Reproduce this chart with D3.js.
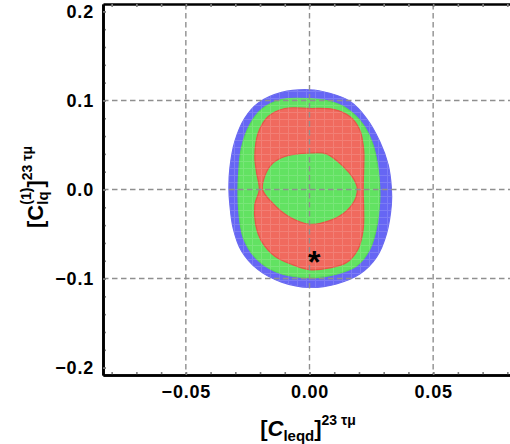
<!DOCTYPE html>
<html>
<head>
<meta charset="utf-8">
<script src="https://cdn.jsdelivr.net/npm/d3@7"></script>
<style>
  body { margin: 0; background: #fff; }
  svg { display: block; font-family: "Liberation Sans", Arial, sans-serif; }
</style>
</head>
<body>
<div id="chart"></div>
<script>
// ticks and grid
const xTicks = [-0.05, 0, 0.05];
const yTicks = [-0.2, -0.1, 0, 0.1, 0.2];
const xMinor = [-0.08, -0.07, -0.06, -0.05, -0.04, -0.03, -0.02, -0.01, 0, 0.01, 0.02, 0.03, 0.04, 0.05, 0.06, 0.07, 0.08];
const yMinor = [-0.2, -0.18, -0.16, -0.14, -0.12, -0.1, -0.08, -0.06, -0.04, -0.02, 0, 0.02, 0.04, 0.06, 0.08, 0.1, 0.12, 0.14, 0.16, 0.18, 0.2];
const gridX = [-0.05, 0, 0.05];
const gridY = [-0.1, 0, 0.1];

// allowed regions, boundaries
const blueRegion = [
  [0.0001, 0.112], [0.0082, 0.108], [0.0163, 0.099], [0.0230, 0.080], [0.0284, 0.054],
  [0.0318, 0.028], [0.0331, 0.002], [0.0331, -0.017], [0.0311, -0.050], [0.0271, -0.076],
  [0.0203, -0.095], [0.0109, -0.106], [0.0001, -0.110], [-0.0113, -0.104], [-0.0208, -0.090],
  [-0.0275, -0.069], [-0.0309, -0.043], [-0.0322, -0.017], [-0.0326, 0.002], [-0.0322, 0.024],
  [-0.0302, 0.054], [-0.0262, 0.080], [-0.0208, 0.097], [-0.0113, 0.109]
];
const greenRegion = [
  [0.0001, 0.102], [0.0082, 0.099], [0.0150, 0.091], [0.0217, 0.073], [0.0257, 0.050],
  [0.0277, 0.024], [0.0284, 0.002], [0.0284, -0.013], [0.0271, -0.043], [0.0244, -0.067],
  [0.0190, -0.086], [0.0109, -0.095], [0.0001, -0.099], [-0.0140, -0.092], [-0.0221, -0.076],
  [-0.0268, -0.054], [-0.0286, -0.024], [-0.0289, 0.002], [-0.0286, 0.020], [-0.0275, 0.047],
  [-0.0241, 0.073], [-0.0194, 0.090], [-0.0113, 0.101]
];
const redRegion = [
  [0.0001, 0.091], [0.0095, 0.090], [0.0163, 0.082], [0.0203, 0.067], [0.0219, 0.045],
  [0.0219, 0.022], [0.0217, 0.000], [0.0219, -0.022], [0.0217, -0.045], [0.0196, -0.067],
  [0.0150, -0.082], [0.0082, -0.088], [0.0001, -0.090], [-0.0073, -0.084], [-0.0140, -0.075],
  [-0.0194, -0.058], [-0.0218, -0.039], [-0.0221, -0.017], [-0.0203, 0.000], [-0.0214, 0.019],
  [-0.0221, 0.037], [-0.0208, 0.063], [-0.0167, 0.082], [-0.0100, 0.091]
];
const innerGreen = [
  [0.0001, 0.041], [0.0069, 0.040], [0.0136, 0.026], [0.0176, 0.013], [0.0193, 0.002],
  [0.0188, -0.009], [0.0150, -0.024], [0.0082, -0.035], [0.0001, -0.039], [-0.0086, -0.030],
  [-0.0154, -0.014], [-0.0190, 0.000], [-0.0181, 0.015], [-0.0154, 0.028], [-0.0100, 0.037]
];
const bestFit = [0.0019, -0.0747];

const width = 510, height = 444;
const svg = d3.select('#chart').append('svg')
  .attr('width', width).attr('height', height);

let x = d3.scaleLinear().domain([-0.0835, 0.0835]).range([103, 516]);
let y = d3.scaleLinear().domain([-0.2083, 0.2083]).range([375, 4]);

let line = d3.line()
  .x(d => x(d[0])).y(d => y(d[1]))
  .curve(d3.curveCatmullRomClosed);

// mesh pattern like the plot's sampling grid
let defs = svg.append('defs');
let pat = defs.append('pattern').attr('id', 'mesh')
  .attr('patternUnits', 'userSpaceOnUse')
  .attr('width', 9).attr('height', 7);
pat.append('path').attr('d', 'M0.5,0V7M0,0.5H9')
  .attr('stroke', '#fff').attr('stroke-width', 1).attr('opacity', 0.14);
defs.append('clipPath').attr('id', 'blueClip')
  .append('path').attr('d', line(blueRegion));

let regions = [
  { pts: blueRegion, fill: '#6666f4', stroke: '#6a6af0' },
  { pts: greenRegion, fill: '#62e262', stroke: '#58d858' },
  { pts: redRegion, fill: '#f06a5e', stroke: '#e85448' },
  { pts: innerGreen, fill: '#62e262', stroke: '#e85448' }
];
svg.append('g').selectAll('path')
  .data(regions)
  .join('path')
  .attr('d', d => line(d.pts))
  .attr('fill', d => d.fill)
  .attr('stroke', d => d.stroke)
  .attr('stroke-width', 1.2);

svg.append('rect')
  .attr('x', 0).attr('y', 0).attr('width', width).attr('height', height)
  .attr('fill', 'url(#mesh)')
  .attr('clip-path', 'url(#blueClip)');

// dashed grid
let grid = svg.append('g')
  .attr('stroke', '#8f8f8f').attr('stroke-width', 1.4)
  .attr('stroke-dasharray', '5.5,3.5');
grid.selectAll('.gx').data(gridX).join('line')
  .attr('x1', d => x(d)).attr('x2', d => x(d))
  .attr('y1', y.range()[1]).attr('y2', y.range()[0]);
grid.selectAll('.gy').data(gridY).join('line')
  .attr('y1', d => y(d)).attr('y2', d => y(d))
  .attr('x1', x.range()[0]).attr('x2', width);

// best fit point
svg.append('text')
  .attr('x', x(bestFit[0])).attr('y', y(bestFit[1]) + 17)
  .attr('text-anchor', 'middle')
  .attr('font-size', 32).attr('font-weight', 'bold')
  .text('*');

// axes
function styleAxis(g) {
  g.select('.domain').attr('stroke', '#000').attr('stroke-width', 2.6);
  g.selectAll('.tick line').attr('stroke', '#808080').attr('stroke-width', 1.6);
  g.selectAll('.tick text')
    .attr('font-size', 18).attr('font-weight', 'bold')
    .attr('letter-spacing', 0.8).attr('fill', '#000');
}

let xMinorAxis = svg.append('g').attr('transform', `translate(0,${y.range()[0]})`)
  .call(d3.axisBottom(x).tickValues(xMinor).tickSize(-3).tickSizeOuter(0).tickFormat(''));
styleAxis(xMinorAxis);
let xTop = svg.append('g').attr('transform', `translate(0,${y.range()[1]})`)
  .call(d3.axisTop(x).tickValues(xMinor).tickSize(-3).tickSizeOuter(0).tickFormat(''));
styleAxis(xTop);
let xAxis = svg.append('g').attr('transform', `translate(0,${y.range()[0]})`)
  .call(d3.axisBottom(x).tickValues(xTicks).tickSize(-3).tickSizeOuter(0)
    .tickPadding(10).tickFormat(d3.format('.2f')));
styleAxis(xAxis);

let yMinorAxis = svg.append('g').attr('transform', `translate(${x.range()[0]},0)`)
  .call(d3.axisLeft(y).tickValues(yMinor).tickSize(-3).tickSizeOuter(0).tickFormat(''));
styleAxis(yMinorAxis);
let yAxis = svg.append('g').attr('transform', `translate(${x.range()[0]},0)`)
  .call(d3.axisLeft(y).tickValues(yTicks).tickSize(-3).tickSizeOuter(0)
    .tickPadding(9).tickFormat(d3.format('.1f')));
styleAxis(yAxis);

// axis titles
let xLab = svg.append('text')
  .attr('x', 308).attr('y', 436)
  .attr('text-anchor', 'middle')
  .attr('font-weight', 'bold').attr('font-size', 22);
xLab.append('tspan').text('[');
xLab.append('tspan').attr('font-style', 'italic').text('C');
xLab.append('tspan').attr('font-size', 15).attr('dy', 5).text('leqd');
xLab.append('tspan').attr('dy', -5).text(']');
xLab.append('tspan').attr('font-size', 14).attr('dy', -11).text('23 τμ');

let yLab = svg.append('text')
  .attr('transform', 'translate(43,187) rotate(-90)')
  .attr('text-anchor', 'middle')
  .attr('font-weight', 'bold').attr('font-size', 22);
yLab.append('tspan').text('[C');
yLab.append('tspan').attr('font-size', 15).attr('dy', 5).text('lq');
yLab.append('tspan').attr('font-size', 14).attr('dx', -13.3).attr('dy', -17).text('(1)');
yLab.append('tspan').attr('dy', 12).text(']');
yLab.append('tspan').attr('font-size', 14).attr('dy', -11).text('23 τμ');
</script>
</body>
</html>
